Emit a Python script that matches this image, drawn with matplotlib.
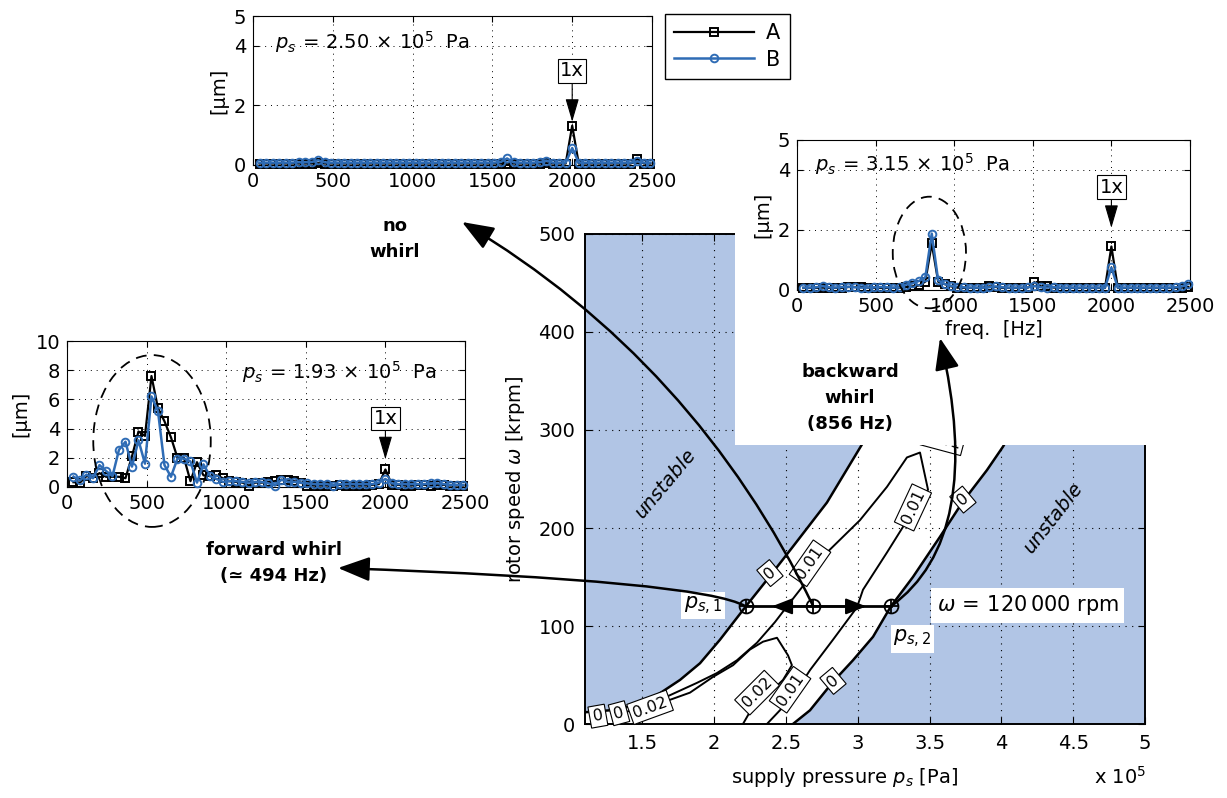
import numpy as np
import matplotlib
matplotlib.use("Agg")
import matplotlib.pyplot as plt
from matplotlib.patches import Ellipse, Rectangle, Polygon

plt.rcParams["font.family"] = ["DejaVu Sans"]
plt.rcParams["mathtext.fontset"] = "dejavusans"
plt.rcParams["font.size"] = 13

UNSTABLE = "#b1c5e5"
COLOR_A = "black"
COLOR_B = "#2f6cb5"

# ---------------------------------------------------------------------------
# Spectra (orbit amplitude in um) at the three supply pressures
# ---------------------------------------------------------------------------
freq_bin = 2000.0 / 49.0          # FFT resolution [Hz]
freq = freq_bin * np.arange(1, 62)

amp_a_250 = [0.05, 0.05, 0.05, 0.05, 0.05, 0.05, 0.05, 0.05, 0.05, 0.06,
             0.05, 0.05, 0.05, 0.05, 0.05, 0.05, 0.05, 0.05, 0.05, 0.05,
             0.05, 0.05, 0.05, 0.05, 0.05, 0.05, 0.05, 0.05, 0.05, 0.05,
             0.05, 0.05, 0.05, 0.05, 0.05, 0.05, 0.05, 0.05, 0.02, 0.05,
             0.05, 0.05, 0.05, 0.05, 0.06, 0.05, 0.05, 0.05, 1.32, 0.05,
             0.05, 0.05, 0.05, 0.05, 0.05, 0.05, 0.05, 0.05, 0.20, 0.05,
             0.05]
amp_b_250 = [0.08, 0.08, 0.08, 0.08, 0.08, 0.08, 0.09, 0.09, 0.10, 0.16,
             0.09, 0.08, 0.08, 0.08, 0.08, 0.08, 0.08, 0.08, 0.08, 0.08,
             0.08, 0.08, 0.08, 0.08, 0.08, 0.08, 0.08, 0.08, 0.08, 0.08,
             0.08, 0.08, 0.08, 0.08, 0.08, 0.08, 0.08, 0.10, 0.22, 0.09,
             0.08, 0.08, 0.08, 0.09, 0.15, 0.08, 0.08, 0.08, 0.57, 0.08,
             0.08, 0.08, 0.08, 0.08, 0.08, 0.08, 0.08, 0.08, 0.12, 0.08,
             0.08]

amp_a_315 = [0.07, 0.07, 0.07, 0.08, 0.07, 0.07, 0.07, 0.10, 0.10, 0.10,
             0.08, 0.07, 0.07, 0.07, 0.07, 0.08, 0.10, 0.12, 0.15, 0.28,
             1.55, 0.28, 0.20, 0.12, 0.08, 0.07, 0.07, 0.07, 0.08, 0.12,
             0.10, 0.07, 0.07, 0.07, 0.07, 0.08, 0.26, 0.12, 0.12, 0.08,
             0.07, 0.07, 0.07, 0.07, 0.07, 0.07, 0.07, 0.07, 1.45, 0.07,
             0.07, 0.07, 0.07, 0.07, 0.07, 0.07, 0.07, 0.07, 0.07, 0.08,
             0.10]
amp_b_315 = [0.08, 0.08, 0.09, 0.13, 0.09, 0.08, 0.10, 0.11, 0.09, 0.08,
             0.08, 0.09, 0.10, 0.09, 0.08, 0.09, 0.18, 0.22, 0.30, 0.42,
             1.88, 0.32, 0.20, 0.14, 0.11, 0.09, 0.08, 0.08, 0.08, 0.09,
             0.12, 0.09, 0.08, 0.08, 0.08, 0.09, 0.13, 0.09, 0.08, 0.10,
             0.08, 0.08, 0.08, 0.08, 0.08, 0.08, 0.08, 0.08, 0.75, 0.08,
             0.08, 0.08, 0.08, 0.08, 0.08, 0.08, 0.08, 0.08, 0.09, 0.12,
             0.20]

amp_a_193 = [0.33, 0.30, 0.75, 0.65, 0.95, 0.70, 0.70, 0.70, 0.60, 2.10,
             3.80, 3.50, 7.60, 5.40, 4.50, 3.40, 2.00, 2.00, 0.40, 1.70,
             0.80, 0.75, 0.80, 0.60, 0.40, 0.35, 0.30, 0.10, 0.30, 0.30,
             0.35, 0.40, 0.50, 0.45, 0.40, 0.30, 0.10, 0.10, 0.10, 0.10,
             0.10, 0.15, 0.10, 0.10, 0.10, 0.10, 0.15, 0.20, 1.20, 0.15,
             0.15, 0.10, 0.10, 0.15, 0.15, 0.10, 0.15, 0.15, 0.10, 0.10,
             0.10]
amp_b_193 = [0.71, 0.45, 0.85, 0.60, 1.50, 1.10, 0.75, 2.55, 3.10, 1.40,
             3.20, 1.60, 6.20, 5.20, 1.50, 0.70, 1.95, 1.95, 1.75, 0.30,
             1.55, 0.75, 0.55, 0.35, 0.40, 0.40, 0.35, 0.30, 0.35, 0.35,
             0.25, 0.10, 0.50, 0.35, 0.35, 0.30, 0.25, 0.20, 0.20, 0.20,
             0.10, 0.20, 0.20, 0.20, 0.20, 0.20, 0.20, 0.30, 0.55, 0.25,
             0.20, 0.20, 0.20, 0.20, 0.20, 0.25, 0.25, 0.20, 0.15, 0.15,
             0.15]

sync_freq = 2000.0   # 1x at 120 000 rpm

# ---------------------------------------------------------------------------
# Stability map: supply pressure [1e5 Pa] vs rotor speed [krpm]
# ---------------------------------------------------------------------------
zero_left_ps = [1.100, 1.274, 1.448, 1.587, 1.762, 1.901, 2.040, 2.220, 2.367,
                2.548, 2.785, 3.036, 3.294, 3.572, 3.851]
zero_left_w = [12, 14, 19, 28, 45, 62, 86, 120, 147, 181, 226, 287, 351, 422, 500]

zero_right_ps = [2.548, 2.667, 2.827, 2.966, 3.106, 3.230, 3.384, 3.572, 3.732,
                 3.899, 4.011, 4.199, 4.477, 4.756]
zero_right_w = [0, 14, 43, 65, 89, 120, 150, 191, 227, 259, 283, 331, 402, 500]

lvl001_ps = [1.379, 1.518, 1.671, 1.880, 2.019, 2.158, 2.298, 2.423, 2.528, 2.667,
             2.785, 3.015, 3.203, 3.342, 3.433, 3.489, 3.384, 3.314, 3.203, 3.036,
             2.994, 2.827, 2.667, 2.548, 2.367]
lvl001_w = [12, 18, 28, 42, 52, 65, 83, 104, 124, 150,
            175, 208, 242, 272, 277, 239, 221, 201, 175, 137,
            119, 86, 55, 28, 0]

lvl002_ps = [1.483, 1.622, 1.831, 1.991, 2.131, 2.249, 2.340, 2.437, 2.514, 2.541,
             2.479, 2.409, 2.298, 2.200]
lvl002_w = [12, 21, 32, 48, 60, 76, 84, 88, 70, 60, 45, 35, 25, 0]

# contour labels: (ps, omega, text, angle)
contour_labels = [
    (1.19, 8, "0", 10), (1.337, 11, "0", 15), (1.553, 17, "0.02", 20),
    (2.298, 32, "0.02", 45), (2.528, 35, "0.01", 55), (2.827, 44, "0", 40),
    (2.388, 154, "0", 40), (2.667, 164, "0.01", 55), (3.384, 221, "0.01", 65),
    (3.732, 229, "0", 40), (3.593, 290, "0.01", -15),
]

omega_op = 120.0
ps_1, ps_mid, ps_2 = 2.22, 2.69, 3.23
tip_left, tip_right = 2.40, 3.06

# ---------------------------------------------------------------------------
W, H = 1227, 798
fig = plt.figure(figsize=(W / 100, H / 100), dpi=100)


def px_rect(x0, y0, x1, y1):
    return [x0 / W, 1 - y1 / H, (x1 - x0) / W, (y1 - y0) / H]


dotted = (0, (1, 5))

# ---------------- main stability map ----------------
ax = fig.add_axes(px_rect(585, 234, 1145, 724))
ax.set_xlim(1.1, 5.0)
ax.set_ylim(0, 500)
ax.set_facecolor(UNSTABLE)

poly_x = [1.1] + zero_left_ps + zero_right_ps[::-1]
poly_y = [0] + zero_left_w + zero_right_w[::-1]
ax.add_patch(Polygon(np.column_stack([poly_x, poly_y]), closed=True,
                     fc="white", ec="none", zorder=1))

ax.plot(zero_left_ps, zero_left_w, color="k", lw=1.8, zorder=2)
ax.plot(zero_right_ps, zero_right_w, color="k", lw=1.8, zorder=2)
ax.plot(lvl001_ps, lvl001_w, color="k", lw=1.4, zorder=2)
ax.plot(lvl002_ps, lvl002_w, color="k", lw=1.4, zorder=2)

for x, y, s, rot in contour_labels:
    ax.text(x, y, s, rotation=rot, rotation_mode="anchor", ha="center",
            va="center", fontsize=11.5, zorder=4,
            bbox=dict(boxstyle="square,pad=0.2", fc="white", ec="k", lw=0.8))

ax.set_xticks([1.5, 2, 2.5, 3, 3.5, 4, 4.5, 5])
ax.set_xticklabels(["1.5", "2", "2.5", "3", "3.5", "4", "4.5", "5"])
ax.set_yticks([0, 100, 200, 300, 400, 500])
ax.grid(True, ls=dotted, color="k", lw=0.8)
ax.tick_params(direction="in", top=True, right=True, length=5, labelsize=14,
               pad=7)
for sp in ax.spines.values():
    sp.set_linewidth(1.4)

ax.set_xlabel(r"supply pressure $p_s$ [Pa]", fontsize=14)
ax.xaxis.set_label_coords(0.464, -0.085)
ax.text(0.955, -0.085, r"x 10$^{5}$", transform=ax.transAxes, ha="center",
        va="top", fontsize=14)
ax.set_ylabel(r"rotor speed $\omega$ [krpm]", fontsize=14, labelpad=8)

ax.text(1.664, 246, "unstable", rotation=50, ha="center", va="center",
        style="italic", fontsize=14, zorder=3)
ax.text(4.366, 211, "unstable", rotation=52, ha="center", va="center",
        style="italic", fontsize=14, zorder=3)

# operating line at constant speed
ax.plot([ps_1, ps_2], [omega_op, omega_op], color="k", lw=2, zorder=3)
for tip in (tip_left, tip_right):
    ax.annotate("", xy=(tip, omega_op), xytext=(ps_mid, omega_op),
                arrowprops=dict(arrowstyle="-|>,head_length=0.9,head_width=0.35",
                                mutation_scale=14, color="k", lw=1.5,
                                shrinkA=0, shrinkB=0), zorder=3)
op_ps = [ps_1, ps_mid, ps_2]
ax.plot(op_ps, [omega_op] * 3, "o", ms=10, mfc="none", mec="k", mew=1.3, zorder=4)
ax.plot(op_ps, [omega_op] * 3, "+", ms=10, mec="k", mew=1.3, zorder=4)

ax.text(1.92, 121, r"$p_{s,1}$", ha="center", va="center", fontsize=15, zorder=4,
        bbox=dict(fc="white", ec="none", pad=2))
ax.text(3.38, 87, r"$p_{s,2}$", ha="center", va="center", fontsize=15, zorder=4,
        bbox=dict(fc="white", ec="none", pad=2))
ax.text(3.55, 121, r"$\omega\,=\,120\,000$ rpm", ha="left", va="center",
        fontsize=15, zorder=4, bbox=dict(fc="white", ec="none", pad=4))

# blank panel behind the backward-whirl spectrum
ax.add_patch(Rectangle((2.145, 284.7), 5.04 - 2.145, 510 - 284.7, fc="white",
                       ec="none", zorder=5, clip_on=False))

big_head = "-|>,head_length=1.3,head_width=0.5"
ax.annotate("", xy=(462, H - 222), xycoords="figure pixels",
            xytext=(ps_mid, omega_op), textcoords="data", zorder=6,
            annotation_clip=False,
            arrowprops=dict(arrowstyle=big_head, mutation_scale=15, lw=1.8,
                            color="k", shrinkA=0, shrinkB=0,
                            connectionstyle="arc3,rad=0.15"))
ax.annotate("", xy=(338, H - 568), xycoords="figure pixels",
            xytext=(ps_1, omega_op), textcoords="data", zorder=6,
            annotation_clip=False,
            arrowprops=dict(arrowstyle=big_head, mutation_scale=15, lw=1.8,
                            color="k", shrinkA=0, shrinkB=0,
                            connectionstyle="angle3,angleA=150,angleB=178"))
ax.annotate("", xy=(940, H - 338), xycoords="figure pixels",
            xytext=(ps_2, omega_op), textcoords="data", zorder=6,
            annotation_clip=False,
            arrowprops=dict(arrowstyle=big_head, mutation_scale=15, lw=1.8,
                            color="k", shrinkA=0, shrinkB=0,
                            connectionstyle="angle3,angleA=36,angleB=103"))


# ---------------- spectrum insets ----------------
def spectrum(rect, amp_a, amp_b, ymax, yticks, label, label_xy, box_y, tip_y):
    a = fig.add_axes(rect)
    la, = a.plot(freq, amp_a, "-s", color=COLOR_A, lw=1.6, ms=5.5, mfc="none",
                 mew=1.4, clip_on=False, zorder=3)
    lb, = a.plot(freq, amp_b, "-o", color=COLOR_B, lw=1.8, ms=5.5, mfc="none",
                 mew=1.4, clip_on=False, zorder=4)
    a.set_xlim(0, 2500)
    a.set_ylim(0, ymax)
    a.set_xticks([0, 500, 1000, 1500, 2000, 2500])
    a.set_yticks(yticks)
    a.grid(True, ls=dotted, color="k", lw=0.7)
    a.tick_params(direction="in", top=True, right=True, length=4, labelsize=14,
                  pad=5)
    a.set_ylabel("[µm]", fontsize=14)
    a.text(label_xy[0], label_xy[1], label, ha="left", va="center", fontsize=14)
    a.annotate("1x", xy=(sync_freq, tip_y), xytext=(sync_freq, box_y),
               ha="center", va="center", fontsize=14,
               bbox=dict(boxstyle="square,pad=0.12", fc="white", ec="k", lw=0.8),
               arrowprops=dict(arrowstyle="-|>,head_length=1.2,head_width=0.35",
                               mutation_scale=12, color="k", lw=0.8,
                               shrinkA=0, shrinkB=0), zorder=5)
    return a, la, lb


ax_top, line_a, line_b = spectrum(px_rect(253, 16, 652, 165), amp_a_250, amp_b_250,
                                  5, [0, 2, 4, 5],
                                  r"$p_s\,=\,2.50\,\times\,10^5$  Pa", (138, 4.13),
                                  3.16, 1.45)

ax_right, _, _ = spectrum(px_rect(797, 140, 1190, 290), amp_a_315, amp_b_315,
                          5, [0, 2, 4, 5],
                          r"$p_s\,=\,3.15\,\times\,10^5$  Pa", (115, 4.2),
                          3.43, 2.07)
ax_right.set_xlabel("freq.  [Hz]", fontsize=14, labelpad=3)
ax_right.add_patch(Ellipse((842, 1.25), 466, 3.72, fill=False, ec="k", lw=1.3,
                           ls=(0, (6, 4)), clip_on=False, zorder=6))

ax_left, _, _ = spectrum(px_rect(67, 341, 465, 487), amp_a_193, amp_b_193,
                         10, [0, 2, 4, 6, 8, 10],
                         r"$p_s\,=\,1.93\,\times\,10^5$  Pa", (1099, 7.86),
                         4.69, 1.9)
ax_left.add_patch(Ellipse((534, 3.15), 738, 11.77, fill=False, ec="k", lw=1.3,
                          ls=(0, (6, 4)), clip_on=False, zorder=6))

fig.legend([line_a, line_b], ["A", "B"], loc="upper left",
           bbox_to_anchor=(665 / W, 1 - 14 / H), bbox_transform=fig.transFigure,
           fancybox=False, edgecolor="k", framealpha=1, fontsize=15,
           handlelength=3.8, handletextpad=0.6, borderaxespad=0, borderpad=0.45,
           labelspacing=0.3)

# whirl annotations
fig.text(395 / W, 1 - 239 / H, "no\nwhirl", ha="center", va="center",
         fontweight="bold", fontsize=13, linespacing=1.6)
fig.text(850 / W, 1 - 398 / H, "backward\nwhirl\n(856 Hz)", ha="center",
         va="center", fontweight="bold", fontsize=13, linespacing=1.6)
fig.text(274 / W, 1 - 563 / H, "forward whirl\n(≃ 494 Hz)", ha="center",
         va="center", fontweight="bold", fontsize=13, linespacing=1.6)

fig.savefig("out.png", dpi=100)
